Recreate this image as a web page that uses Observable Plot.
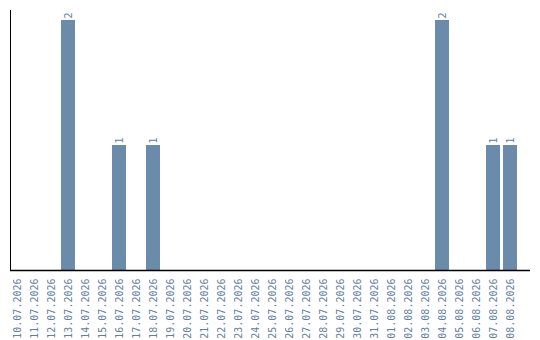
<!DOCTYPE html>
<html>
<head>
<meta charset="utf-8">
<script src="https://cdn.jsdelivr.net/npm/d3@7"></script>
<script src="https://cdn.jsdelivr.net/npm/@observablehq/plot@0.6"></script>
<style>
  html, body { margin: 0; padding: 0; background: #fff; }
  #chart svg { display: block; }
</style>
</head>
<body>
<div id="chart"></div>
<script>
// Daily counts, one entry per calendar day
const days = [
  "10.07.2026", "11.07.2026", "12.07.2026", "13.07.2026", "14.07.2026",
  "15.07.2026", "16.07.2026", "17.07.2026", "18.07.2026", "19.07.2026",
  "20.07.2026", "21.07.2026", "22.07.2026", "23.07.2026", "24.07.2026",
  "25.07.2026", "26.07.2026", "27.07.2026", "28.07.2026", "29.07.2026",
  "30.07.2026", "31.07.2026", "01.08.2026", "02.08.2026", "03.08.2026",
  "04.08.2026", "05.08.2026", "06.08.2026", "07.08.2026", "08.08.2026"
];
const counts = [
  0, 0, 0, 2, 0,
  0, 1, 0, 1, 0,
  0, 0, 0, 0, 0,
  0, 0, 0, 0, 0,
  0, 0, 0, 0, 0,
  2, 0, 0, 1, 1
];

const rows = days.map((day, i) => ({day, count: counts[i]}));
const nonZero = rows.filter(d => d.count > 0);

const barColor = "#6a8caa";
const textColor = "#5f80a6";

const chart = Plot.plot({
  width: 540,
  height: 340,
  marginLeft: 10,
  marginRight: 10,
  marginTop: 10,
  marginBottom: 70,
  style: {fontFamily: "'DejaVu Sans Mono', monospace", fontSize: "10px", background: "#fff"},
  x: {domain: days, paddingInner: 0.18, paddingOuter: 0, insetRight: 13},
  y: {domain: [0, 2], insetTop: 10},
  marks: [
    Plot.barY(nonZero, {x: "day", y: "count", fill: barColor}),
    Plot.text(nonZero, {
      x: "day", y: "count", text: d => String(d.count),
      rotate: -90, textAnchor: "start", dy: -2, fill: textColor, fontSize: 10
    }),
    Plot.axisX({
      tickSize: 0, tickPadding: 8, tickRotate: -90,
      fill: textColor, fontSize: 10, label: null
    }),
    Plot.axisY({ticks: [], label: null}),
    Plot.frame({anchor: "left", stroke: "#000"}),
    Plot.ruleY([0], {stroke: "#000", strokeWidth: 1.5})
  ]
});

document.getElementById("chart").appendChild(chart);
</script>
</body>
</html>
